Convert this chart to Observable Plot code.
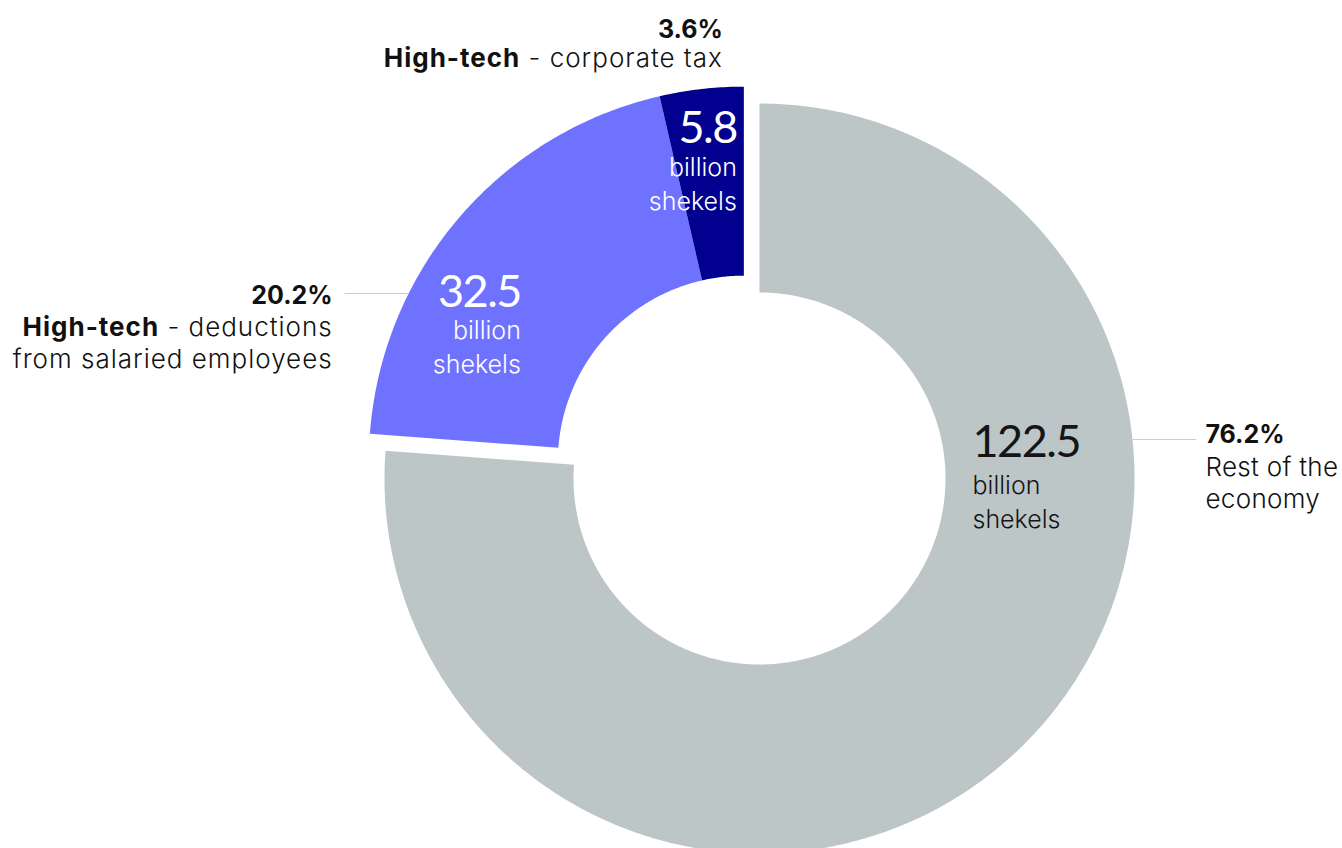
<!DOCTYPE html>
<html><head><meta charset="utf-8">
<script src="https://cdn.jsdelivr.net/npm/d3@7"></script>
<script src="https://cdn.jsdelivr.net/npm/@observablehq/plot@0.6"></script>
<style>
html,body{margin:0;padding:0;background:#fff;}
#chart svg{display:block;}
</style></head><body><div id="chart"></div>
<script>
// ---- data ----
const categories = ["Rest of the economy", "High-tech - deductions from salaried employees", "High-tech - corporate tax"];
const values = [122.5, 32.5, 5.8]; // billion shekels
const shares = ["76.2%", "20.2%", "3.6%"];
const valueLabels = ["122.5", "32.5", "5.8"];
const unitLabel = "billion\nshekels";
const labelLines = ["Rest of the\neconomy", "High-tech - deductions\nfrom salaried employees", "High-tech - corporate tax"];
const highTech = [false, true, true];
const colors = ["#bdc6c6", "#6e72ff", "#01008f"];

// ---- layout ----
const W = 1342, H = 848;
const cx = 759, cy = 478, R = 375, R0 = 186, explode = 23;
const total = d3.sum(values);
let acc = 0;
const slices = values.map((v, i) => {
  const a0 = acc / total * 2 * Math.PI; acc += v;
  return {i, a0, a1: acc / total * 2 * Math.PI};
});
const ht = slices.filter(s => highTech[s.i]);
const htMid = (d3.min(ht, s => s.a0) + d3.max(ht, s => s.a1)) / 2;
slices.forEach(s => {
  const off = highTech[s.i] ? explode : 0;
  s.ox = cx + off * Math.sin(htMid);
  s.oy = cy - off * Math.cos(htMid);
});

// arc polygons
const arcPoints = [];
slices.forEach(s => {
  const n = Math.max(8, Math.ceil((s.a1 - s.a0) / (Math.PI / 360)));
  const ring = [];
  for (let k = 0; k <= n; k++) { const a = s.a0 + (s.a1 - s.a0) * k / n; ring.push([R, a]); }
  for (let k = n; k >= 0; k--) { const a = s.a0 + (s.a1 - s.a0) * k / n; ring.push([R0, a]); }
  ring.forEach(([rad, a]) => arcPoints.push({key: categories[s.i], x: s.ox + rad * Math.sin(a), y: s.oy - rad * Math.cos(a)}));
});

// leader lines (y position of the leader, side)
const leaderSpec = [{i: 0, y: 439, side: 1}, {i: 1, y: 293, side: -1}];
const leaders = leaderSpec.map(({i, y, side}) => {
  const s = slices[i];
  const x1 = s.ox + side * Math.sqrt(R * R - (s.oy - y) * (s.oy - y));
  return {i, side, x1, y1: y, x2: x1 + side * 64, y2: y};
});

// outside labels
const outer = [];
leaders.forEach(l => {
  const gap = l.side > 0 ? 9 : 12;
  const anchor = l.side > 0 ? "start" : "end";
  const x = l.x2 + l.side * gap;
  outer.push({pct: shares[l.i], lab: labelLines[l.i], x, yp: l.y2 + (l.side > 0 ? 3 : 10), yl: l.y2 + (l.side > 0 ? 68 : 74), anchor});
});
{
  const s = slices[2];
  outer.push({pct: shares[2], lab: labelLines[2], x: s.ox - 21, yp: s.oy - R - 49, yl: s.oy - R - 20, anchor: "end"});
}

// inside labels: offsets from slice centre
const innerOffsets = [[213, -22, 49, "start"], [-223, -155, -89, "end"], [-7, -319, -252, "end"]];
const inner = slices.map(s => {
  const [dx, dyNum, dyUnit, anchor] = innerOffsets[s.i];
  return {num: valueLabels[s.i], x: s.ox + dx, yn: s.oy + dyNum, yu: s.oy + dyUnit, anchor, fill: s.i === 0 ? "#151515" : "#ffffff"};
});

const labelFont = "Inter, Lato, sans-serif";
const numFont = "Lato, sans-serif";
const textMarks = [];
for (const anchor of ["start", "end"]) {
  const isA = d => d.anchor === anchor;
  textMarks.push(
    Plot.text(outer, {filter: isA, x: "x", y: "yp", text: "pct", textAnchor: anchor, lineAnchor: "bottom", fontSize: 25, fontWeight: 700, fontFamily: labelFont, fill: "#111"}),
    Plot.text(outer, {filter: isA, x: "x", y: "yl", text: "lab", textAnchor: anchor, lineAnchor: "bottom", fontSize: 26, fontWeight: 300, fontFamily: labelFont, lineHeight: 1.23, fill: "#111"}),
    Plot.text(inner, {filter: isA, x: "x", y: "yn", text: "num", textAnchor: anchor, lineAnchor: "bottom", fontSize: 45, fontWeight: 400, fontFamily: numFont, fill: "fill"}),
    Plot.text(inner, {filter: isA, x: "x", y: "yu", text: () => unitLabel, textAnchor: anchor, lineAnchor: "bottom", fontSize: 25, fontWeight: 300, fontFamily: labelFont, lineHeight: 1.36, fill: "fill"})
  );
}

const plot = Plot.plot({
  width: W, height: H,
  margin: 0,
  x: {domain: [0, W], range: [0, W], axis: null},
  y: {domain: [0, H], range: [0, H], axis: null},
  color: {domain: categories, range: colors},
  style: {fontFamily: labelFont, background: "#fff"},
  marks: [
    Plot.line(arcPoints, {x: "x", y: "y", z: "key", fill: "key", stroke: "none", curve: "linear"}),
    Plot.link(leaders, {x1: "x1", y1: "y1", x2: "x2", y2: "y2", stroke: "#c9cdcd", strokeWidth: 1}),
    ...textMarks
  ]
});
// typography tweaks: bold "High-tech", wider label tracking, tighter big numbers
const leftLineSet = new Set(labelLines.slice(1).flatMap(s => s.split("\n")));
const rightLineSet = new Set(labelLines[0].split("\n"));
const numberSet = new Set(valueLabels);
plot.querySelectorAll("text").forEach(t => {
  const whole = t.textContent;
  if (numberSet.has(whole)) t.style.letterSpacing = "-1.5px";
  const els = t.querySelectorAll("tspan").length ? [...t.querySelectorAll("tspan")] : [t];
  els.forEach(el => {
    const s = el.textContent;
    if (leftLineSet.has(s)) t.style.letterSpacing = "1px";
    if (rightLineSet.has(s)) t.style.letterSpacing = "0.3px";
    if (s.startsWith("High-tech")) {
      el.textContent = "";
      const b = document.createElementNS("http://www.w3.org/2000/svg", "tspan");
      b.setAttribute("font-weight", "700");
      b.textContent = "High-tech";
      el.appendChild(b);
      el.appendChild(document.createTextNode(s.slice(9)));
    }
  });
});
document.getElementById("chart").appendChild(plot);
</script></body></html>
